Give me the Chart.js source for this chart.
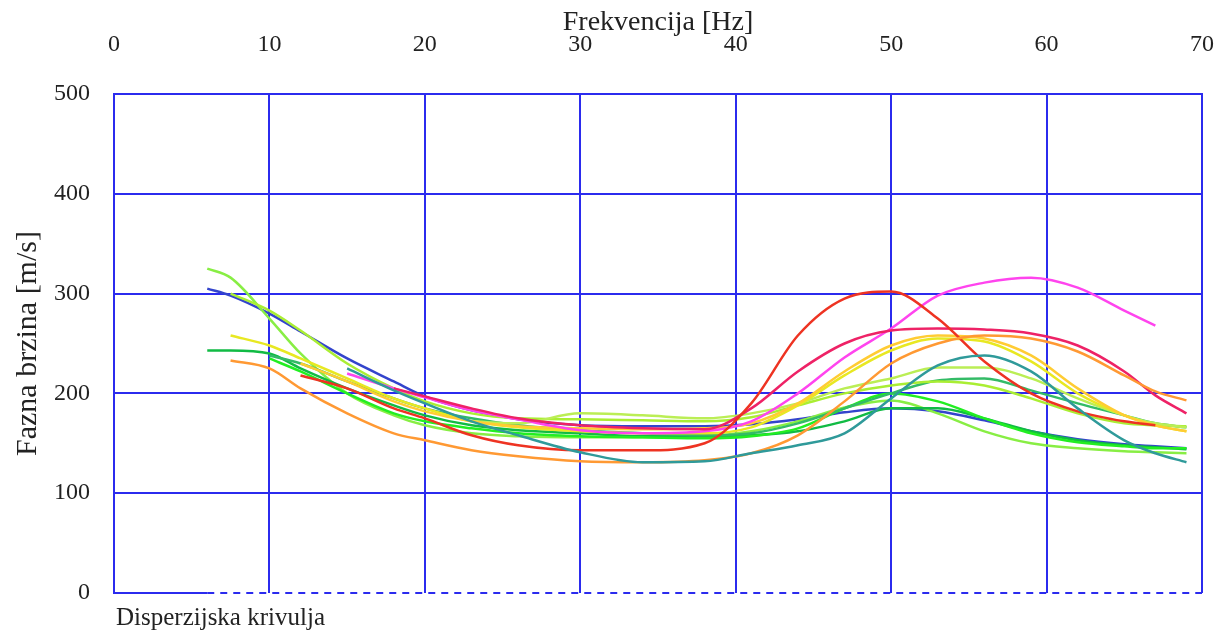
<!DOCTYPE html>
<html>
<head>
<meta charset="utf-8">
<script src="https://cdn.jsdelivr.net/npm/chart.js@4/dist/chart.umd.min.js"></script>
<style>
    html, body { margin: 0; padding: 0; background: #fff; }
    #wrap { position: relative; width: 1227px; height: 634px; }
    #note {
        position: absolute; left: 116px; top: 603px;
        font-family: "Liberation Serif", serif; font-size: 25px; color: #222;
    }
</style>
</head>
<body>
<div id="wrap">
    <canvas id="chart" width="1227" height="634"></canvas>
    <div id="note">Disperzijska krivulja</div>
</div>
<script>
// frequency points (Hz) shared by all curves
const freq = [6, 7.5, 10, 12, 15, 18, 20, 23, 26, 30, 34, 38, 41, 44, 47, 50, 53, 56, 59, 62, 65, 67, 69];

// phase velocity (m/s) per curve, null where the curve is absent
const blue      = [305, 298, 280, 262, 235, 212, 197, 183, 174, 168, 167, 167, 169, 174, 181, 185, 182, 173, 162, 154, 149, 147, 145];
const lightGreen= [325, 316, 275, 240, 200, 178, 168, 160, 157, 156, 156, 157, 162, 172, 186, 193, 180, 162, 150, 145, 142, 141, 140];
const yellowGrn = [null, 300, 283, 263, 230, 205, 192, 180, 175, 174, 173, 172, 176, 188, 200, 208, 212, 208, 195, 180, 170, 168, 167];
const yellow    = [null, 258, 248, 235, 215, 195, 185, 172, 166, 162, 160, 160, 166, 188, 218, 243, 255, 252, 232, 200, 178, 168, 162];
const green     = [243, 243, 240, 225, 205, 188, 178, 168, 163, 160, 157, 157, 158, 162, 172, 185, 185, 175, 162, 153, 148, 146, 144];
const orange    = [null, 233, 225, 205, 180, 160, 153, 143, 137, 132, 131, 133, 140, 158, 192, 230, 250, 258, 255, 242, 218, 202, 193];
const red       = [null, null, null, 218, 205, 185, 175, 158, 148, 143, 143, 150, 190, 258, 295, 302, 275, 232, 200, 182, 172, 168, null];
const crimson   = [null, null, null, null, null, 205, 197, 185, 175, 168, 165, 164, 185, 222, 250, 263, 265, 264, 260, 248, 222, 198, 180];
const magenta   = [null, null, null, null, 220, 205, 196, 183, 174, 163, 160, 162, 172, 200, 236, 265, 298, 311, 316, 306, 283, 268, null];
const teal      = [null, null, null, null, 225, 203, 190, 172, 158, 141, 131, 132, 140, 148, 160, 195, 228, 238, 222, 185, 153, 140, 131];
const midGreen  = [null, null, 238, 230, 212, 195, 185, 175, 168, 163, 160, 158, 160, 170, 185, 200, 213, 215, 203, 190, 178, 170, 166];
const brightGrn = [null, null, 235, 222, 200, 180, 172, 165, 160, 157, 156, 155, 157, 165, 185, 200, 192, 175, 160, 151, 147, 145, 145];
const gold      = [null, null, null, 230, 212, 192, 182, 172, 167, 165, 164, 165, 170, 190, 222, 248, 258, 255, 238, 205, 178, 168, 162];
const paleGreen = [null, null, null, null, null, null, null, 172, 170, 180, 178, 175, 180, 190, 205, 215, 226, 226, 215, 195, 178, 170, 166];

const series = [
    ['teal', teal, '#2f9a9a'],
    ['orange', orange, '#ff9933'],
    ['red', red, '#ee3322'],
    ['crimson', crimson, '#ee2266'],
    ['magenta', magenta, '#ff44ee'],
    ['gold', gold, '#ffcc33'],
    ['yellow', yellow, '#e8e822'],
    ['paleGreen', paleGreen, '#bbee55'],
    ['yellowGrn', yellowGrn, '#aaee33'],
    ['midGreen', midGreen, '#33bb66'],
    ['brightGrn', brightGrn, '#22ee22'],
    ['green', green, '#11bb44'],
    ['lightGreen', lightGreen, '#88ee44'],
    ['blue', blue, '#3344cc']
];

// dispersion curve baseline (solid part, then dashed part)
const baseSolidX = [0, 6];
const baseDashX = [6, 70];
const baseY = 0;

const xTicks = [0, 10, 20, 30, 40, 50, 60, 70];
const yTicks = [0, 100, 200, 300, 400, 500];

const gridBlue = '#2b2bee';
const serif = '"Liberation Serif", "Times New Roman", serif';

function toPoints(vals) {
    return freq.map((f, i) => ({ x: f, y: vals[i] })).filter(p => p.y !== null);
}

const datasets = series.map(([name, vals, color]) => ({
    label: name,
    data: toPoints(vals),
    borderColor: color,
    borderWidth: 2.5,
    pointRadius: 0,
    fill: false,
    tension: 0.4,
    cubicInterpolationMode: 'monotone'
}));

datasets.push({
    label: 'baseSolid',
    data: baseSolidX.map(x => ({ x: x, y: baseY })),
    borderColor: gridBlue, borderWidth: 2, pointRadius: 0, clip: false
});
datasets.push({
    label: 'baseDash',
    data: baseDashX.map(x => ({ x: x, y: baseY })),
    borderColor: gridBlue, borderWidth: 2, borderDash: [7, 6], pointRadius: 0, clip: false
});

const ctx = document.getElementById('chart').getContext('2d');
new Chart(ctx, {
    type: 'line',
    data: { datasets: datasets },
    options: {
        responsive: false,
        animation: false,
        layout: { padding: { left: 0, right: 25, top: 0, bottom: 41 } },
        plugins: {
            legend: { display: false },
            tooltip: { enabled: false }
        },
        scales: {
            x: {
                type: 'linear',
                position: 'top',
                min: 0, max: 70,
                afterBuildTicks: axis => { axis.ticks = xTicks.map(v => ({ value: v })); },
                afterFit: axis => {
                    axis.height = 94;
                    axis.paddingLeft = 0;
                    axis.paddingRight = 0;
                },
                ticks: {
                    color: '#222',
                    font: { family: serif, size: 24 },
                    padding: 35,
                    maxRotation: 0
                },
                grid: { color: gridBlue, lineWidth: 2, drawTicks: false },
                border: { display: true, color: gridBlue, width: 2 },
                title: {
                    display: true,
                    text: 'Frekvencija [Hz]',
                    color: '#222',
                    font: { family: serif, size: 28 },
                    padding: { top: 6, bottom: 0 }
                }
            },
            y: {
                type: 'linear',
                min: 0, max: 500,
                afterBuildTicks: axis => { axis.ticks = yTicks.map(v => ({ value: v })); },
                afterFit: axis => {
                    axis.width = 114;
                    axis.paddingTop = 0;
                    axis.paddingBottom = 0;
                },
                ticks: {
                    color: '#222',
                    font: { family: serif, size: 24 },
                    padding: 24
                },
                grid: {
                    color: c => c.tick && c.tick.value === 0 ? 'rgba(0,0,0,0)' : gridBlue,
                    lineWidth: 2,
                    drawTicks: false
                },
                border: { display: true, color: gridBlue, width: 2 },
                title: {
                    display: true,
                    text: 'Fazna brzina [m/s]',
                    color: '#222',
                    font: { family: serif, size: 30 },
                    padding: { top: 10, bottom: 0 }
                }
            }
        }
    },
    plugins: [{
        id: 'rightBorder',
        afterDraw(chart) {
            const a = chart.chartArea;
            const c = chart.ctx;
            c.save();
            c.strokeStyle = gridBlue;
            c.lineWidth = 2;
            c.beginPath();
            c.moveTo(a.right, a.top);
            c.lineTo(a.right, a.bottom);
            c.stroke();
            c.restore();
        }
    }]
});
</script>
</body>
</html>
